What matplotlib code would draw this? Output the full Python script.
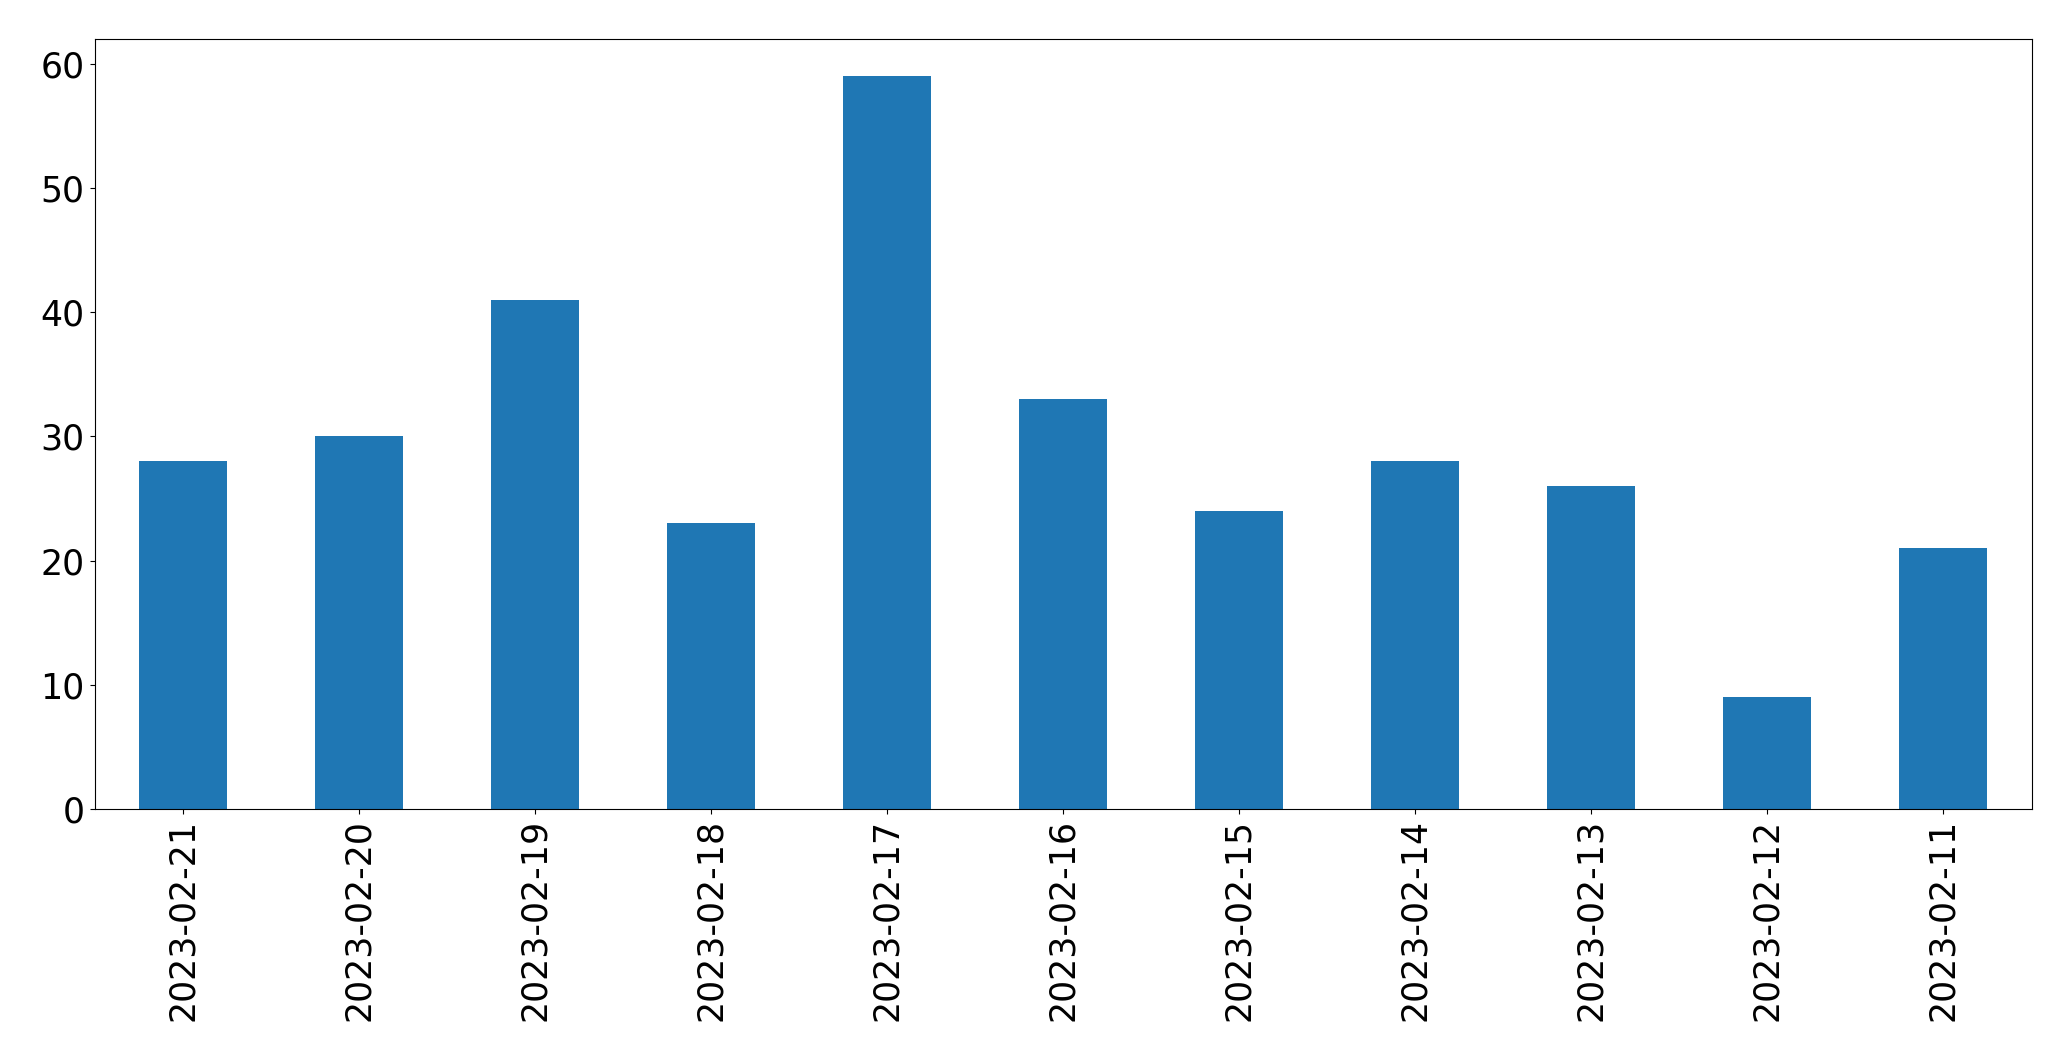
import matplotlib
matplotlib.use("Agg")
import matplotlib.pyplot as plt
import pandas as pd

dates = ["2023-02-21", "2023-02-20", "2023-02-19", "2023-02-18", "2023-02-17",
         "2023-02-16", "2023-02-15", "2023-02-14", "2023-02-13", "2023-02-12",
         "2023-02-11"]
counts = [28, 30, 41, 23, 59, 33, 24, 28, 26, 9, 21]

plt.rcParams['font.size'] = 25
fig = plt.figure(figsize=(20.71, 10.61), dpi=100)
ax = fig.add_axes([94.5 / 2071, (1061 - 809) / 1061, (2031.5 - 94.5) / 2071, (809 - 39.3) / 1061])
s = pd.Series(counts, index=dates)
s.plot(kind="bar", ax=ax, color="#1f77b4")
ax.tick_params(labelsize=25)
fig.savefig("out.png", dpi=100)
